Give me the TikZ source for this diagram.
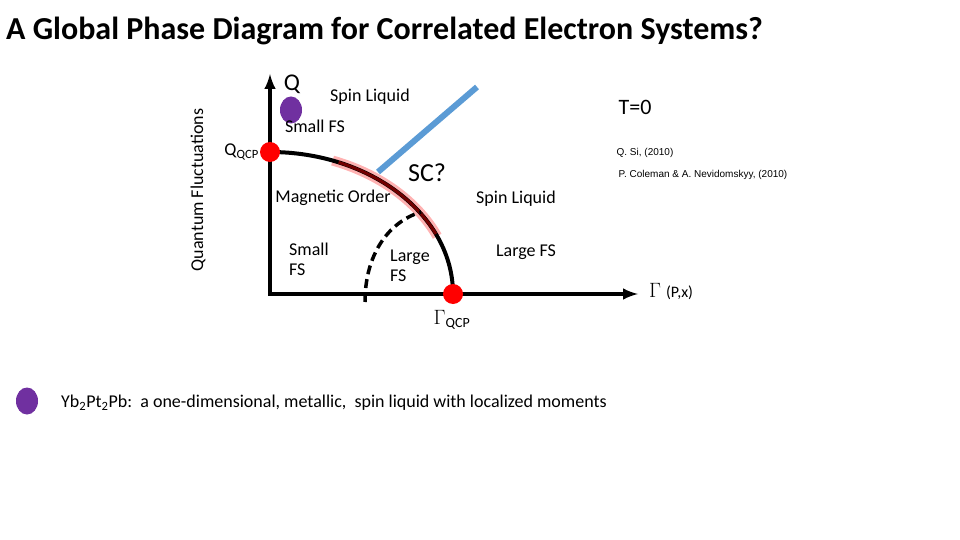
\documentclass[tikz,border=0pt]{standalone}
\usepackage{fontspec}
\usetikzlibrary{calc,shapes.geometric}
\setmainfont{Carlito}
\newfontfamily\arialf{Liberation Sans}
\begin{document}
\begin{tikzpicture}[x=1pt,y=-1pt,
  lbl/.style={inner sep=0pt,font=\fontsize{18}{20}\selectfont},
  dot/.style={circle,fill=red,minimum size=20pt,inner sep=0pt},
  ax/.style={line width=4pt},
  ref/.style={inner sep=0pt,font=\arialf\fontsize{10}{11}\selectfont}]
\useasboundingbox (0,0) rectangle (960,540);
\node[anchor=west,inner sep=0pt,font=\bfseries\fontsize{32}{36}\selectfont] (title) at (6,31) {A Global Phase Diagram for Correlated Electron Systems?};
\node[rotate=90,lbl,font=\fontsize{18}{20}\selectfont] (qf) at (198,190) {Quantum Fluctuations};
\coordinate (o) at (270,294);
\coordinate (top) at (270,74);
\coordinate (right) at (638,294);
\draw[line width=10pt,red!30] (270,294) ++(70:183 and -142) arc[start angle=70,end angle=24,x radius=183,y radius=-142];
\draw[ax] (270,152) arc[start angle=90,end angle=0,x radius=183,y radius=-142];
\draw[line width=3pt,red!45!black] (270,294) ++(68:183 and -142) arc[start angle=68,end angle=25,x radius=183,y radius=-142];
\draw[line width=6pt,color={rgb,255:red,91;green,155;blue,213}] (378,172) -- (477,87);
\draw[line width=3.5pt,dashed,dash pattern=on 9pt off 5pt] (365,302) .. controls (365,255) and (388,222) .. (421,212);
\draw[ax,-latex] (o) -- (top);
\draw[ax,-latex] ($(o)+(-2,0)$) -- (right);
\node[dot] (qqcp) at (270,152) {};
\node[dot] (gqcp) at (453,294) {};
\node[ellipse,fill={rgb,255:red,112;green,48;blue,160},minimum width=22pt,minimum height=27pt,inner sep=0pt] (pd) at (291,110) {};
\node[ellipse,fill={rgb,255:red,112;green,48;blue,160},minimum width=22pt,minimum height=27pt,inner sep=0pt] (pd2) at (27,401) {};
\node[lbl,font=\fontsize{24}{26}\selectfont] (q) at (292,84) {Q};
\node[lbl] (sl1) at (370,97) {Spin Liquid};
\node[lbl] (sfs) at (315,126) {Small FS};
\node[lbl,font=\fontsize{22}{24}\selectfont] (t0) at (635,107) {T=0};
\node[lbl,anchor=east] (ql) at (259,152) {Q\textsubscript{QCP}};
\node[lbl,font=\fontsize{26}{28}\selectfont] (sc) at (427,173) {SC?};
\node[lbl] (mo) at (333,198) {Magnetic Order};
\node[lbl] (sl2) at (516,199) {Spin Liquid};
\node[lbl,align=left,anchor=west] (sfs2) at (289,259) {Small\\FS};
\node[lbl,align=left,anchor=west] (lfs) at (390,266) {Large\\FS};
\node[lbl] (lfs2) at (526,252) {Large FS};
\node[lbl] (gl) at (452,320) {\fontsize{20}{22}\selectfont$\Gamma$\textsubscript{\fontsize{14}{16}\selectfont QCP}};
\node[lbl,anchor=west] (gp) at (649,292) {\fontsize{22}{24}\selectfont$\Gamma$ \fontsize{16}{18}\selectfont(P,x)};
\node[ref] (r1) at (645,153) {Q. Si, (2010)};
\node[ref] (r2) at (703,175) {P. Coleman \& A. Nevidomskyy, (2010)};
\node[lbl,anchor=west] (yb) at (61,403) {Yb\textsubscript{2}Pt\textsubscript{2}Pb:\ \ a one-dimensional, metallic,\ \ spin liquid with localized moments};
\end{tikzpicture}
\end{document}
